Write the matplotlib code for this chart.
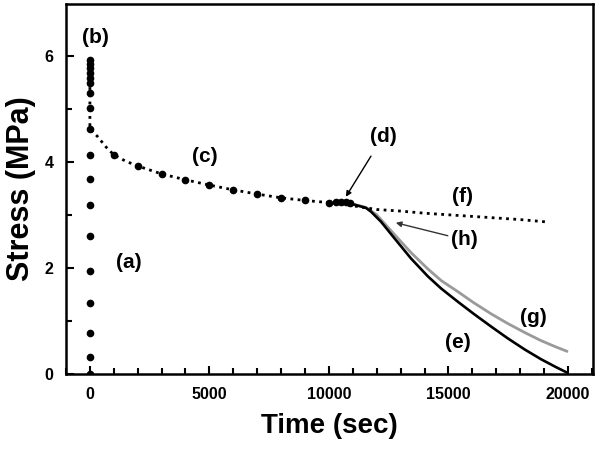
import matplotlib
matplotlib.use("Agg")
import matplotlib.pyplot as plt
from matplotlib.ticker import MultipleLocator

plt.rcParams['font.family'] = ['Liberation Sans', 'DejaVu Sans']

# (a) loading points and (b) peak, all at t = 0
load_t = [0, 0, 0, 0, 0, 0, 0, 0, 0, 0, 0, 0, 0, 0, 0, 0, 0, 0]
load_s = [0.0, 0.32, 0.78, 1.34, 1.94, 2.6, 3.19, 3.68, 4.13, 4.62,
          5.02, 5.3, 5.49, 5.58, 5.68, 5.77, 5.85, 5.91]

# (c) relaxation markers
relax_t = [1000, 2000, 3000, 4000, 5000, 6000, 7000, 8000, 9000, 10000,
           10300, 10500, 10700, 10900]
relax_s = [4.13, 3.92, 3.77, 3.66, 3.56, 3.47, 3.39, 3.32, 3.27, 3.23,
           3.24, 3.25, 3.25, 3.22]

# (f) dotted relaxation curve
f_t = [0, 0, 330, 670, 1000, 1500, 2000, 3000, 4000, 5000, 6000, 7000, 8000,
       9000, 10000, 11000, 12000, 13000, 14000, 15000, 16000, 17000, 18000,
       19000, 19200]
f_s = [5.95, 4.62, 4.47, 4.28, 4.13, 4.01, 3.92, 3.77, 3.66, 3.56, 3.47, 3.39,
       3.32, 3.27, 3.23, 3.17, 3.1, 3.07, 3.03, 3.0, 2.97, 2.94, 2.91, 2.87, 2.86]

# (e) black curve
e_t = [10500, 11000, 11550, 11760, 12180, 12720, 13430, 14140, 14700, 15400,
       16070, 16800, 17490, 18200, 18870, 19500, 19950]
e_s = [3.24, 3.2, 3.13, 3.06, 2.87, 2.57, 2.18, 1.84, 1.61, 1.36,
       1.13, 0.89, 0.67, 0.46, 0.28, 0.13, 0.03]

# (g) gray curve
g_t = [10500, 11000, 11550, 12000, 12720, 13430, 14140, 14700, 15400, 16070,
       16800, 17490, 18200, 18870, 19500, 19950]
g_s = [3.24, 3.2, 3.14, 3.0, 2.64, 2.29, 1.98, 1.76, 1.55, 1.34,
       1.13, 0.95, 0.78, 0.63, 0.51, 0.43]

x_ticks = [0, 5000, 10000, 15000, 20000]
y_ticks = [0, 2, 4, 6]

fig = plt.figure(figsize=(6.01, 4.57), dpi=100)
ax = fig.add_axes([0.1098, 0.1816, 0.8769, 0.8094])

ax.plot(g_t, g_s, color='#9a9a9a', lw=2.0, zorder=2)
ax.plot(e_t, e_s, color='black', lw=1.9, zorder=3)
ax.plot(f_t, f_s, color='black', lw=2.0, linestyle=(0, (1, 1.6)), zorder=3)
ax.plot(load_t, load_s, 'o', color='black', ms=4.5, zorder=4)
ax.plot(relax_t, relax_s, 'o', color='black', ms=4.5, zorder=4)

ax.set_xlim(-1000, 21050)
ax.set_ylim(0, 6.97)
ax.set_xticks(x_ticks)
ax.set_yticks(y_ticks)
ax.xaxis.set_minor_locator(MultipleLocator(1000))
ax.yaxis.set_minor_locator(MultipleLocator(1))
ax.tick_params(which='both', direction='in', top=False, right=False, width=1.5)
ax.tick_params(which='major', length=6, pad=9, labelsize=11.5)
ax.tick_params(which='minor', length=4)
for lab in ax.get_xticklabels() + ax.get_yticklabels():
    lab.set_fontweight('bold')
for sp in ax.spines.values():
    sp.set_linewidth(1.8)

ax.set_xlabel('Time (sec)', fontsize=20, fontweight='bold', labelpad=8)
ax.set_ylabel('Stress (MPa)', fontsize=22, fontweight='bold', labelpad=6)

tk = dict(fontsize=15, fontweight='bold', ha='center', va='center')
ax.text(250, 6.34, '(b)', **tk)
ax.text(4800, 4.09, '(c)', **tk)
ax.text(1630, 2.11, '(a)', **tk)
ax.text(15600, 3.34, '(f)', **tk)
ax.text(18540, 1.06, '(g)', **tk)
ax.text(15400, 0.6, '(e)', **tk)
ax.annotate('(d)', xy=(10710, 3.34), xytext=(12260, 4.47), **tk,
            arrowprops=dict(arrowstyle='-|>', color='black', lw=1.0,
                            mutation_scale=8, shrinkA=6, shrinkB=0))
ax.annotate('(h)', xy=(12800, 2.85), xytext=(15650, 2.53), **tk,
            arrowprops=dict(arrowstyle='-|>', color='#333333', lw=1.0,
                            mutation_scale=8, shrinkA=0, shrinkB=0))

fig.savefig('out.png', dpi=100)
